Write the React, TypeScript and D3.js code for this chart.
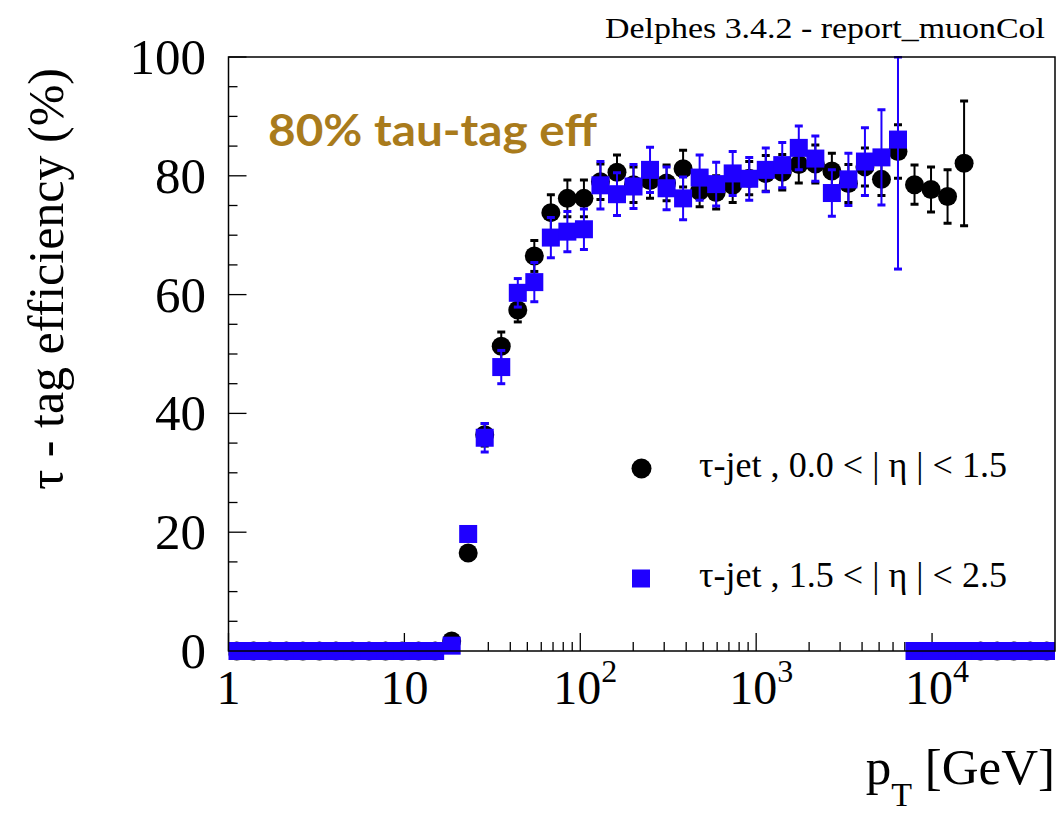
import React from "react";
import * as d3 from "d3";

// Bin centres (GeV) of the 50 log-spaced pT bins between 1 and 5e4
const pT = [1.114, 1.383, 1.718, 2.133, 2.648, 3.288, 4.082, 5.068, 6.293, 7.813,
  9.701, 12.04, 14.96, 18.57, 23.05, 28.62, 35.54, 44.13, 54.79, 68.03,
  84.46, 104.9, 130.2, 161.7, 200.7, 249.2, 309.5, 384.2, 477.1, 592.3,
  735.4, 913.1, 1134, 1407, 1747, 2170, 2694, 3345, 4153, 5156,
  6402, 7949, 9866, 12250, 15210, 18880, 23450, 29110, 36150, 44880];

// tau-jet, 0.0 < |eta| < 1.5 (black circles)
const centralEff = [0, 0, 0, 0, 0, 0, 0, 0, 0, 0, 0, 0, 0,
  1.7, 16.5, 36.4, 51.3, 57.4, 66.5, 73.8, 76.2, 76.2, 79.0, 80.6, 78.5, 79.2, 78.8,
  81.2, 77.4, 77.2, 78.4, 79.6, 80.4, 80.6, 81.9, 82.0, 80.8, 78.7, 81.5, 79.4, 84.1,
  78.5, 77.7, 76.5, 82.1, 0, 0, 0, 0, 0];
const centralErr = [0, 0, 0, 0, 0, 0, 0, 0, 0, 0, 0, 0, 0,
  0.4, 0.9, 1.9, 2.4, 2.0, 2.6, 3.0, 3.1, 3.1, 3.0, 2.9, 3.0, 3.0, 3.0,
  3.1, 2.6, 2.8, 2.9, 2.8, 3.0, 3.0, 3.1, 3.2, 3.0, 3.2, 3.2, 2.7, 4.5,
  3.3, 3.8, 4.5, 10.5, 0, 0, 0, 0, 0];

// tau-jet, 1.5 < |eta| < 2.5 (blue squares)
const forwardEff = [0, 0, 0, 0, 0, 0, 0, 0, 0, 0, 0, 0, 0,
  0.9, 19.7, 35.9, 47.8, 60.3, 62.1, 69.6, 70.6, 71.0, 78.4, 76.9, 78.2, 81.0, 77.9,
  76.2, 79.7, 78.6, 80.4, 79.5, 81.0, 81.8, 84.7, 82.9, 77.1, 79.4, 82.4, 83.1, 86.1,
  0, 0, 0, 0, 0, 0, 0, 0, 0];
const forwardErr = [0, 0, 0, 0, 0, 0, 0, 0, 0, 0, 0, 0, 0,
  0.4, 1.0, 2.4, 2.8, 2.4, 3.3, 3.4, 3.4, 3.4, 4.0, 3.6, 3.7, 3.8, 3.6,
  3.6, 3.8, 3.7, 3.7, 3.6, 3.7, 3.8, 3.7, 3.8, 3.9, 4.4, 5.7, 8.0, 21.8,
  0, 0, 0, 0, 0, 0, 0, 0, 0];

const xMajorTicks = [1, 10, 100, 1000, 10000];
const xTickBase = ["1", "10", "10", "10", "10"];
const xTickExp = ["", "", "2", "3", "4"];
const yMajorTicks = [0, 20, 40, 60, 80, 100];

const legendLabels = ["τ-jet , 0.0 < | η | < 1.5", "τ-jet , 1.5 < | η | < 2.5"];

const BLUE = "#1f00ff";
const SERIF = "'Liberation Serif', 'Times New Roman', serif";

export default function App() {
  const L = 228.5, R = 1055, T = 57, B = 651;
  const x = d3.scaleLog().domain([1, 5e4]).range([L, R]);
  const y = d3.scaleLinear().domain([0, 100]).range([B, T]);

  const minorX: number[] = [];
  for (let d = 0; d <= 4; d++) {
    for (let m = 2; m <= 9; m++) {
      const v = m * Math.pow(10, d);
      if (v < 5e4) minorX.push(v);
    }
  }
  const minorY = d3.range(0, 101, 5).filter((v) => v % 20 !== 0);

  const errBars = (eff: number[], err: number[], color: string) =>
    eff.map((v, i) => {
      if (err[i] <= 0) return null;
      const cx = x(pT[i]);
      const y1 = y(Math.max(0, v - err[i]));
      const y2 = y(Math.min(100, v + err[i]));
      return (
        <g key={i} stroke={color}>
          <line x1={cx} x2={cx} y1={y1} y2={y2} strokeWidth={2} />
          <line x1={cx - 4} x2={cx + 4} y1={y1} y2={y1} strokeWidth={3} />
          <line x1={cx - 4} x2={cx + 4} y1={y2} y2={y2} strokeWidth={3} />
        </g>
      );
    });

  return (
    <svg width={1063} height={819} style={{ position: "absolute", left: 0, top: 0, background: "#fff" }}>
      <defs>
        <clipPath id="plotClip">
          <rect x={L} y={T - 1} width={R - L} height={B - T + 20} />
        </clipPath>
      </defs>
      <rect x={0} y={0} width={1063} height={819} fill="#fff" />

      {/* ticks */}
      <g stroke="#000" strokeWidth={1.3}>
        {xMajorTicks.map((v) => (
          <line key={"xM" + v} x1={x(v)} x2={x(v)} y1={B} y2={B - 18} />
        ))}
        {minorX.map((v) => (
          <line key={"xm" + v} x1={x(v)} x2={x(v)} y1={B} y2={B - 9} />
        ))}
        {yMajorTicks.map((v) => (
          <line key={"yM" + v} x1={L} x2={L + 18} y1={y(v)} y2={y(v)} />
        ))}
        {minorY.map((v) => (
          <line key={"ym" + v} x1={L} x2={L + 9} y1={y(v)} y2={y(v)} />
        ))}
      </g>

      {/* data */}
      <g clipPath="url(#plotClip)">
        {errBars(centralEff, centralErr, "#000")}
        {centralEff.map((v, i) => (
          <circle key={"c" + i} cx={x(pT[i])} cy={y(v)} r={9.5} fill="#000" />
        ))}
        {errBars(forwardEff, forwardErr, BLUE)}
        {forwardEff.map((v, i) => (
          <rect key={"s" + i} x={x(pT[i]) - 9} y={y(v) - 9} width={18} height={18} fill={BLUE} />
        ))}
      </g>

      {/* frame */}
      <rect x={L} y={T} width={R - L} height={B - T} fill="none" stroke="#000" strokeWidth={1.5} />

      {/* y tick labels */}
      <g fontFamily={SERIF} fontSize={51} fill="#000" textAnchor="end">
        {yMajorTicks.map((v) => (
          <text key={"yl" + v} x={206} y={y(v) + 17}>{v}</text>
        ))}
      </g>

      {/* x tick labels */}
      <g fontFamily={SERIF} fill="#000">
        {xMajorTicks.map((v, i) => (
          <text key={"xl" + v} x={x(v) + (xTickExp[i] ? 5 : 0)} y={704} fontSize={48} textAnchor="middle">
            {xTickBase[i]}
            {xTickExp[i] ? (
              <tspan fontSize={32} dy={-22}>{xTickExp[i]}</tspan>
            ) : null}
          </text>
        ))}
      </g>

      {/* axis titles */}
      <text x={1055} y={784} fontFamily={SERIF} fontSize={51} textAnchor="end" fill="#000">
        p<tspan fontSize={34} dy={22}>T</tspan><tspan dy={-22}> [GeV]</tspan>
      </text>
      <text
        transform="translate(63,68) rotate(-90)"
        fontFamily={SERIF}
        fontSize={50}
        textAnchor="end"
        fill="#000"
      >
        τ - tag efficiency (%)
      </text>

      {/* header */}
      <text x={1045} y={38} fontFamily={SERIF} fontSize={30} textAnchor="end" fill="#000"
        textLength={440} lengthAdjust="spacingAndGlyphs">
        Delphes 3.4.2 - report_muonCol
      </text>

      {/* annotation */}
      <text x={268} y={146} fontFamily="Lato, 'Open Sans', sans-serif" fontWeight="bold" fontSize={44}
        fill="#a97b1c" textLength={329} lengthAdjust="spacingAndGlyphs">
        80% tau-tag eff
      </text>

      {/* legend */}
      <circle cx={641.5} cy={468.5} r={10} fill="#000" />
      <rect x={632} y={569.5} width={18} height={18} fill={BLUE} />
      <g fontFamily={SERIF} fontSize={36} fill="#000">
        <text x={699} y={477} textLength={308} lengthAdjust="spacingAndGlyphs">{legendLabels[0]}</text>
        <text x={699} y={587} textLength={308} lengthAdjust="spacingAndGlyphs">{legendLabels[1]}</text>
      </g>
    </svg>
  );
}
